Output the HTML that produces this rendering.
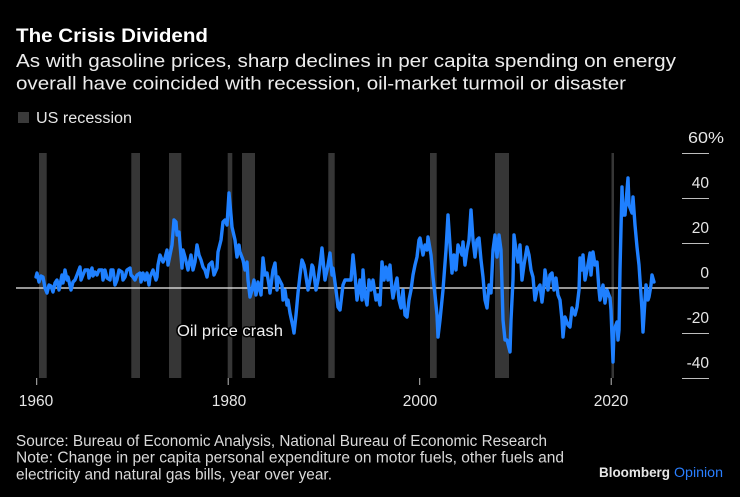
<!DOCTYPE html>
<html>
<head>
<meta charset="utf-8">
<style>
  html, body { margin:0; padding:0; background:#000; }
  body { width:740px; height:497px; overflow:hidden; }
  svg { display:block; }
  text { font-family: "Liberation Sans", Arial, sans-serif; }
</style>
</head>
<body>
<svg width="740" height="497" viewBox="0 0 740 497" xmlns="http://www.w3.org/2000/svg">
  <rect x="0" y="0" width="740" height="497" fill="#000"/>

  <!-- Title & subtitle -->
  <text x="16" y="42" font-size="19.5" font-weight="bold" fill="#ffffff" textLength="192" lengthAdjust="spacingAndGlyphs">The Crisis Dividend</text>
  <text x="16" y="67" font-size="18.5" fill="#ececec" textLength="660" lengthAdjust="spacingAndGlyphs">As with gasoline prices, sharp declines in per capita spending on energy</text>
  <text x="16" y="89.5" font-size="18.5" fill="#ececec" textLength="610" lengthAdjust="spacingAndGlyphs">overall have coincided with recession, oil-market turmoil or disaster</text>

  <!-- Legend -->
  <rect x="18" y="112" width="11" height="11" fill="#3a3a3a"/>
  <text x="36" y="123" font-size="15.5" fill="#e6e6e6" textLength="96" lengthAdjust="spacingAndGlyphs">US recession</text>

  <!-- Recession bars -->
  <g fill="#363636">
    <rect x="39" y="153" width="7.7" height="225"/>
    <rect x="131.3" y="153" width="8.7" height="225"/>
    <rect x="169" y="153" width="12.3" height="225"/>
    <rect x="227.7" y="153" width="4.6" height="225"/>
    <rect x="242" y="153" width="13" height="225"/>
    <rect x="328.3" y="153" width="6.4" height="225"/>
    <rect x="430" y="153" width="6.7" height="225"/>
    <rect x="495" y="153" width="14" height="225"/>
    <rect x="611.5" y="153" width="2.5" height="225"/>
  </g>

  <!-- Right axis tick lines -->
  <g stroke="#bdbdbd" stroke-width="1">
    <line x1="682" y1="153.5" x2="709" y2="153.5"/>
    <line x1="682" y1="198.5" x2="709" y2="198.5"/>
    <line x1="682" y1="243.5" x2="709" y2="243.5"/>
    <line x1="682" y1="333.5" x2="709" y2="333.5"/>
    <line x1="682" y1="378.5" x2="709" y2="378.5"/>
  </g>
  <!-- zero line -->
  <line x1="16" y1="288" x2="709" y2="288" stroke="#f0f0f0" stroke-width="1.2"/>

  <!-- Right axis labels -->
  <g font-size="15.5" fill="#e6e6e6">
    <text x="688" y="143" textLength="36" lengthAdjust="spacingAndGlyphs">60%</text>
    <text x="709" y="188" text-anchor="end">40</text>
    <text x="709" y="233" text-anchor="end">20</text>
    <text x="709" y="278" text-anchor="end">0</text>
    <text x="709" y="323" text-anchor="end">-20</text>
    <text x="709" y="368" text-anchor="end">-40</text>
  </g>

  <!-- X ticks -->
  <g stroke="#bdbdbd" stroke-width="1">
    <line x1="36.7" y1="378" x2="36.7" y2="385"/>
    <line x1="228.2" y1="378" x2="228.2" y2="385"/>
    <line x1="419.7" y1="378" x2="419.7" y2="385"/>
    <line x1="611.2" y1="378" x2="611.2" y2="385"/>
  </g>
  <g font-size="15.5" fill="#e6e6e6" text-anchor="middle">
    <text x="36" y="406">1960</text>
    <text x="229" y="406">1980</text>
    <text x="420" y="406">2000</text>
    <text x="611" y="406">2020</text>
  </g>

  <!-- Series -->
  <polyline fill="none" stroke="#1f80ff" stroke-width="3.4" stroke-linejoin="round" stroke-linecap="round"
    points="36,277 37,273 39,282 41,276 43,277 45,288 47,293 49,285 51,286 53,292 55,283 57,280 59,290 62,275 63,283 65,270 67,280 68,277 71,290 73,282 75,280 77,275 80,267 81,280 83,275 85,270 88,270 89,278 92,268 93,276 95,272 97,275 99,270 102,270 103,280 105,270 107,278 110,280 111,270 113,270 115,285 117,280 119,270 122,272 123,280 125,277 127,270 130,268 131,275 133,277 135,280 137,275 140,273 141,282 143,273 145,280 147,273 149,285 150,277 153,270 156,280 157,277 158,265 160,255 163,262 165,258 167,250 168,265 171,250 172,245 174,220 176,222 177,235 179,232 182,268 183,250 185,257 188,270 191,255 193,270 195,262 197,245 199,255 201,260 203,267 205,270 207,277 209,265 212,262 214,275 217,268 218,252 221,240 223,222 225,220 227,225 229,193 231,215 232,227 235,240 237,257 239,245 240,252 243,260 245,270 247,262 248,280 250,297 252,290 254,280 256,295 258,282 261,295 263,258 265,275 267,273 269,285 270,293 273,270 275,263 277,290 278,277 282,285 283,300 285,290 287,305 288,300 290,313 293,327 294,333 296,315 298,293 300,275 302,260 304,265 305,270 308,290 310,280 312,265 313,267 316,290 318,280 320,265 322,248 324,270 325,280 328,265 330,253 332,275 333,268 336,290 338,307 340,310 343,285 345,280 348,280 351,280 353,255 355,275 357,300 360,280 362,300 363,270 365,295 367,305 369,280 371,290 373,280 376,300 378,295 380,305 382,262 384,280 386,267 388,280 390,265 392,290 393,298 396,282 397,278 399,300 401,308 403,290 405,315 407,317 409,300 411,290 413,275 415,265 417,257 419,240 420,238 423,255 425,245 427,250 428,237 431,255 433,277 435,295 437,315 438,337 440,320 442,300 443,290 446,250 448,215 450,245 452,273 454,255 456,270 458,245 460,250 462,255 463,242 465,265 467,250 469,240 471,210 473,240 475,257 477,240 479,238 481,260 483,277 485,300 487,308 489,285 491,293 493,250 495,235 497,257 499,235 501,250 503,320 505,340 507,340 510,352 511,320 513,280 514,235 516,250 518,262 520,245 522,280 524,265 527,247 529,255 531,270 533,277 535,300 537,290 540,285 542,302 544,285 545,270 548,290 550,275 552,273 554,290 556,278 558,295 560,300 562,320 563,337 565,317 568,325 570,327 572,308 575,315 577,307 579,290 580,258 582,270 583,255 585,280 587,270 590,253 591,275 593,252 595,265 597,262 599,290 600,300 603,285 605,303 607,290 610,298 611,310 613,362 614,330 617,322 618,340 619,330 620,270 622,187 623,215 625,215 628,178 629,205 632,213 633,197 635,225 637,247 639,265 640,280 642,310 643,332 645,300 646,285 648,300 649,297 651,285 652,275 654,282"/>

  <!-- Annotation -->
  <text x="177" y="336" font-size="15.5" fill="#f0f0f0" stroke="#000" stroke-width="3" paint-order="stroke" textLength="106" lengthAdjust="spacingAndGlyphs">Oil price crash</text>

  <!-- Footer -->
  <g font-size="15.5" fill="#d9d9d9">
    <text x="16" y="446" textLength="531" lengthAdjust="spacingAndGlyphs">Source: Bureau of Economic Analysis, National Bureau of Economic Research</text>
    <text x="16" y="462.7" textLength="548" lengthAdjust="spacingAndGlyphs">Note: Change in per capita personal expenditure on motor fuels, other fuels and</text>
    <text x="16" y="479.3" textLength="316" lengthAdjust="spacingAndGlyphs">electricity and natural gas bills, year over year.</text>
  </g>
  <text x="599" y="477" font-size="14" font-weight="bold" fill="#e6e6e6" textLength="71" lengthAdjust="spacingAndGlyphs">Bloomberg</text>
  <text x="674" y="477" font-size="14" fill="#2a7fff" textLength="49" lengthAdjust="spacingAndGlyphs">Opinion</text>
</svg>
</body>
</html>
